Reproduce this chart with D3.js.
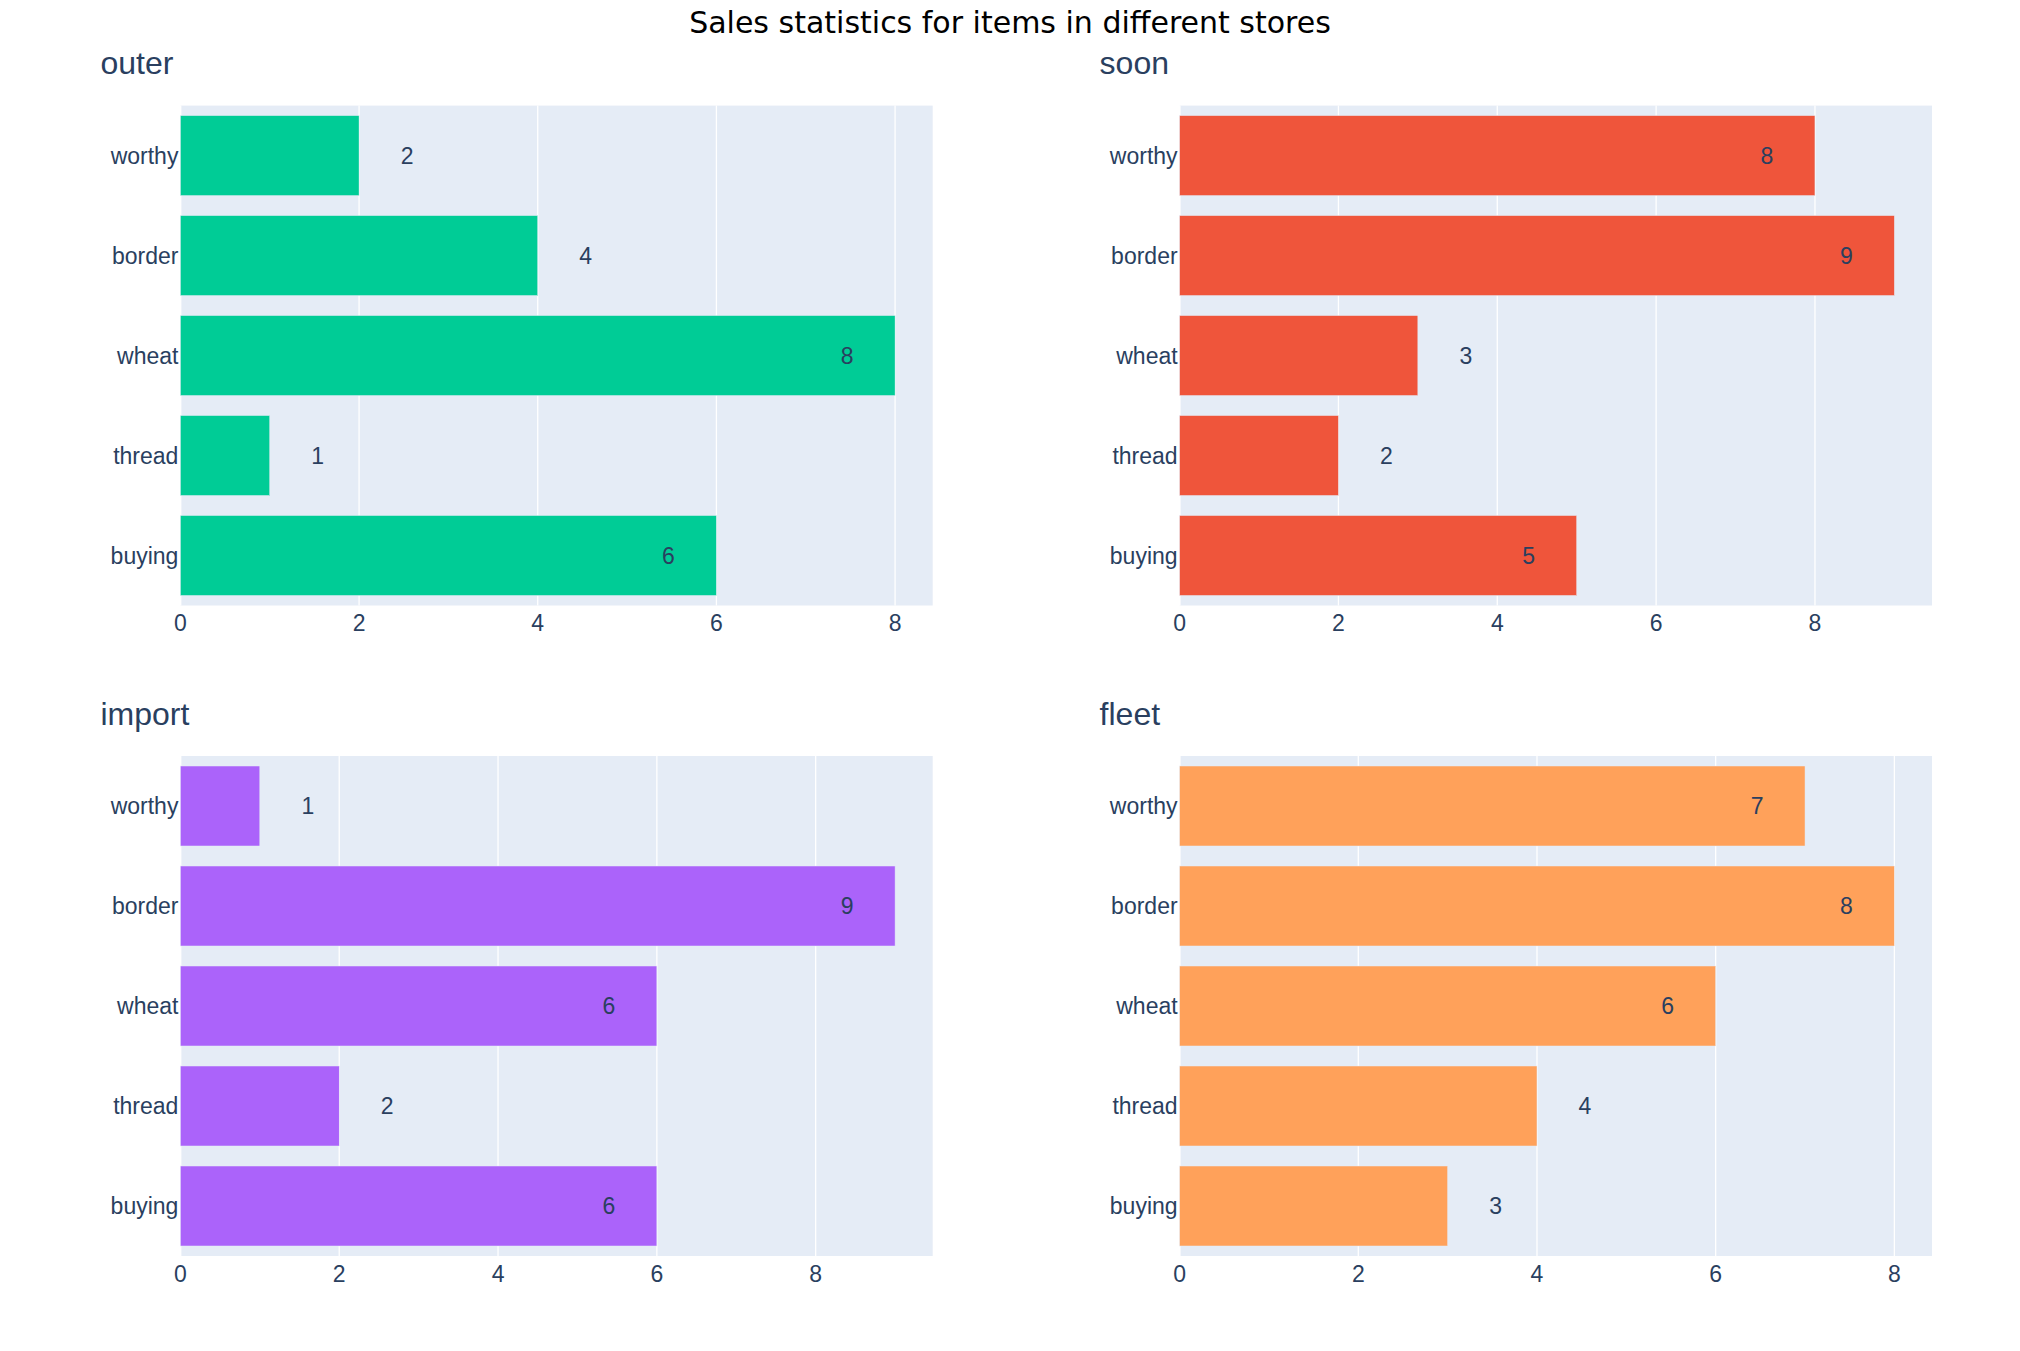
<!DOCTYPE html>
<html>
<head>
<meta charset="utf-8">
<script src="https://cdn.jsdelivr.net/npm/d3@7"></script>
<style>
  body { margin: 0; background: #fff; }
  svg text { font-family: "Liberation Sans", Arial, sans-serif; fill: #2a3f5f; }
</style>
</head>
<body>
<div id="chart"></div>
<script>
// items, top to bottom as drawn
const items = ['worthy', 'border', 'wheat', 'thread', 'buying'];

const stores = ['outer', 'soon', 'import', 'fleet'];
const outerSales = [2, 4, 8, 1, 6];
const soonSales = [8, 9, 3, 2, 5];
const importSales = [1, 9, 6, 2, 6];
const fleetSales = [7, 8, 6, 4, 3];
const storeColors = ['#00cc96', '#ef553b', '#ab63fa', '#ffa15a'];
const xTicks = [0, 2, 4, 6, 8];

const chartTitle = 'Sales statistics for items in different stores';

function renderChart(containerSelector) {
  const W = 2020, H = 1351;
  const svg = d3.select(containerSelector).append('svg')
    .attr('width', W).attr('height', H);

  svg.append('text')
    .attr('x', W / 2).attr('y', 33)
    .attr('text-anchor', 'middle')
    .style('font-family', '"DejaVu Sans", sans-serif')
    .style('font-size', '30px')
    .style('fill', '#000')
    .text(chartTitle);

  const cols = [{ left: 180.4, right: 932.7 }, { left: 1179.6, right: 1932 }];
  const rows = [{ top: 105.6, bottom: 605.5 }, { top: 756, bottom: 1256 }];
  const series = [outerSales, soonSales, importSales, fleetSales];

  series.forEach((values, i) => {
    const c = cols[i % 2], r = rows[Math.floor(i / 2)];
    const w = c.right - c.left, h = r.bottom - r.top;
    const g = svg.append('g').attr('transform', `translate(${c.left},${r.top})`);

    // plotly-style range: max padded by 5%
    const x = d3.scaleLinear().domain([0, d3.max(values) / 0.95]).range([0, w]);
    const y = d3.scaleBand().domain(items).range([0, h]).paddingInner(0.2).paddingOuter(0.1);

    g.append('rect').attr('width', w).attr('height', h).attr('fill', '#e5ecf6');

    g.selectAll('line.grid').data(xTicks).join('line')
      .attr('class', 'grid')
      .attr('x1', d => x(d)).attr('x2', d => x(d))
      .attr('y1', 0).attr('y2', h)
      .attr('stroke', '#fff').attr('stroke-width', d => d === 0 ? 2 : 1.3);

    g.selectAll('rect.bar').data(values).join('rect')
      .attr('class', 'bar')
      .attr('x', x(0))
      .attr('y', (d, j) => y(items[j]))
      .attr('width', d => x(d) - x(0))
      .attr('height', y.bandwidth())
      .attr('fill', storeColors[i])
      .attr('stroke', '#e5ecf6').attr('stroke-width', 0.5);

    g.selectAll('text.val').data(values).join('text')
      .attr('class', 'val')
      .attr('x', d => (x(d) > 380 ? x(d) - 48 : x(d) + 48))
      .attr('y', (d, j) => y(items[j]) + y.bandwidth() / 2)
      .attr('dy', '0.36em')
      .attr('text-anchor', 'middle')
      .style('font-size', '23px')
      .text(d => d);

    // y tick labels
    g.selectAll('text.ylab').data(items).join('text')
      .attr('class', 'ylab')
      .attr('x', -2)
      .attr('y', d => y(d) + y.bandwidth() / 2)
      .attr('dy', '0.36em')
      .attr('text-anchor', 'end')
      .style('font-size', '23px')
      .text(d => d);

    // x tick labels
    g.selectAll('text.xlab').data(xTicks).join('text')
      .attr('class', 'xlab')
      .attr('x', d => x(d))
      .attr('y', h + 26)
      .attr('text-anchor', 'middle')
      .style('font-size', '23px')
      .text(d => d);

    svg.append('text')
      .attr('x', c.left - 80).attr('y', r.top - 31.5)
      .style('font-size', '32px')
      .text(stores[i]);
  });
}

renderChart('#chart');
</script>
</body>
</html>
